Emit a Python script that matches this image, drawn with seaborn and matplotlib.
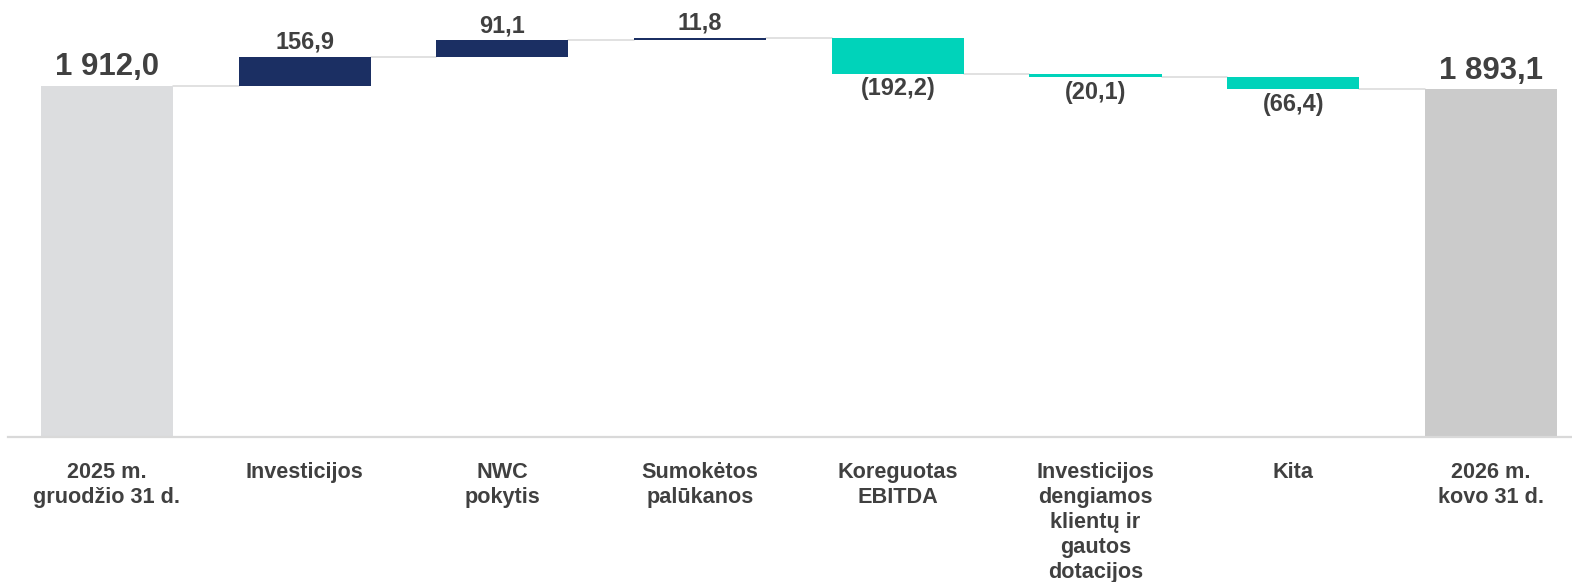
import numpy as np
import pandas as pd
import matplotlib
matplotlib.use("Agg")
import matplotlib.pyplot as plt
import seaborn as sns

# Duomenys (mln. EUR)
kategorijos = ["2025 m.\ngruodžio 31 d.", "Investicijos", "NWC\npokytis", "Sumokėtos\npalūkanos",
               "Koreguotas\nEBITDA", "Investicijos\ndengiamos\nklientų ir\ngautos\ndotacijos",
               "Kita", "2026 m.\nkovo 31 d."]
pradzia = 1912.0
pokyciai = [156.9, 91.1, 11.8, -192.2, -20.1, -66.4]
pabaiga = 1893.1

spalva_pradzia = "#DCDDDF"
spalva_pabaiga = "#CBCBCB"
spalva_teig = "#1B2F63"
spalva_neig = "#00D3BA"
teksto_spalva = "#404040"

# Waterfall skaičiavimai
suma = np.concatenate([[pradzia], pradzia + np.cumsum(pokyciai)])
apacia = [0.0]
aukstis = [pradzia]
for i, d in enumerate(pokyciai):
    apacia.append(min(suma[i], suma[i + 1]))
    aukstis.append(abs(d))
apacia.append(0.0)
aukstis.append(pabaiga)

df = pd.DataFrame({"kategorija": kategorijos, "aukstis": aukstis})

sns.set_theme(style="white")
plt.rcParams["font.family"] = ["Liberation Sans", "DejaVu Sans"]

fig = plt.figure(figsize=(15.72, 5.82), dpi=100)
ax = fig.add_axes([8 / 1572, 145 / 582, 1 - 8 / 1572, 437 / 582])

plotis = 0.668
sns.barplot(data=df, x="kategorija", y="aukstis", bottom=apacia, width=plotis,
            color=spalva_teig, ax=ax, linewidth=0)

spalvos = [spalva_pradzia] + [spalva_teig if d > 0 else spalva_neig for d in pokyciai] + [spalva_pabaiga]
for p, c in zip(ax.patches, spalvos):
    p.set_facecolor(c)

def fmt(v):
    s = f"{abs(v):,.1f}".replace(",", " ").replace(".", ",")
    return f"({s})" if v < 0 else s

# jungiamosios linijos
for i in range(len(kategorijos) - 1):
    lygis = suma[i]
    ax.plot([i + plotis / 2, i + 1 - plotis / 2], [lygis, lygis], color="#D9D9D9", lw=1.1, zorder=0)

# reikšmių etiketės
ax.text(0, pradzia + 20, fmt(pradzia), ha="center", va="bottom", fontsize=22.4,
        fontweight="bold", color=teksto_spalva)
ax.text(len(kategorijos) - 1, pabaiga + 20, fmt(pabaiga), ha="center", va="bottom", fontsize=22.4,
        fontweight="bold", color=teksto_spalva)
for i, d in enumerate(pokyciai):
    x = i + 1
    if d > 0:
        ax.text(x, suma[i + 1] + 18, fmt(d), ha="center", va="bottom", fontsize=16.9,
                fontweight="bold", color=teksto_spalva)
    else:
        ax.text(x, suma[i + 1] - 18, fmt(d), ha="center", va="top", fontsize=16.9,
                fontweight="bold", color=teksto_spalva)

ax.set_xlim(-0.5, 7.41)
ax.set_ylim(0, 2380)
ax.set_xlabel("")
ax.set_ylabel("")
ax.set_yticks([])
ax.tick_params(axis="x", length=0, pad=18)
for lbl in ax.get_xticklabels():
    lbl.set_fontsize(15.6)
    lbl.set_fontweight("bold")
    lbl.set_color(teksto_spalva)
    lbl.set_linespacing(1.25)
for s in ["top", "left", "right"]:
    ax.spines[s].set_visible(False)
ax.spines["bottom"].set_color("#D9D9D9")
ax.spines["bottom"].set_linewidth(1.6)

fig.savefig("out.png", dpi=100)
